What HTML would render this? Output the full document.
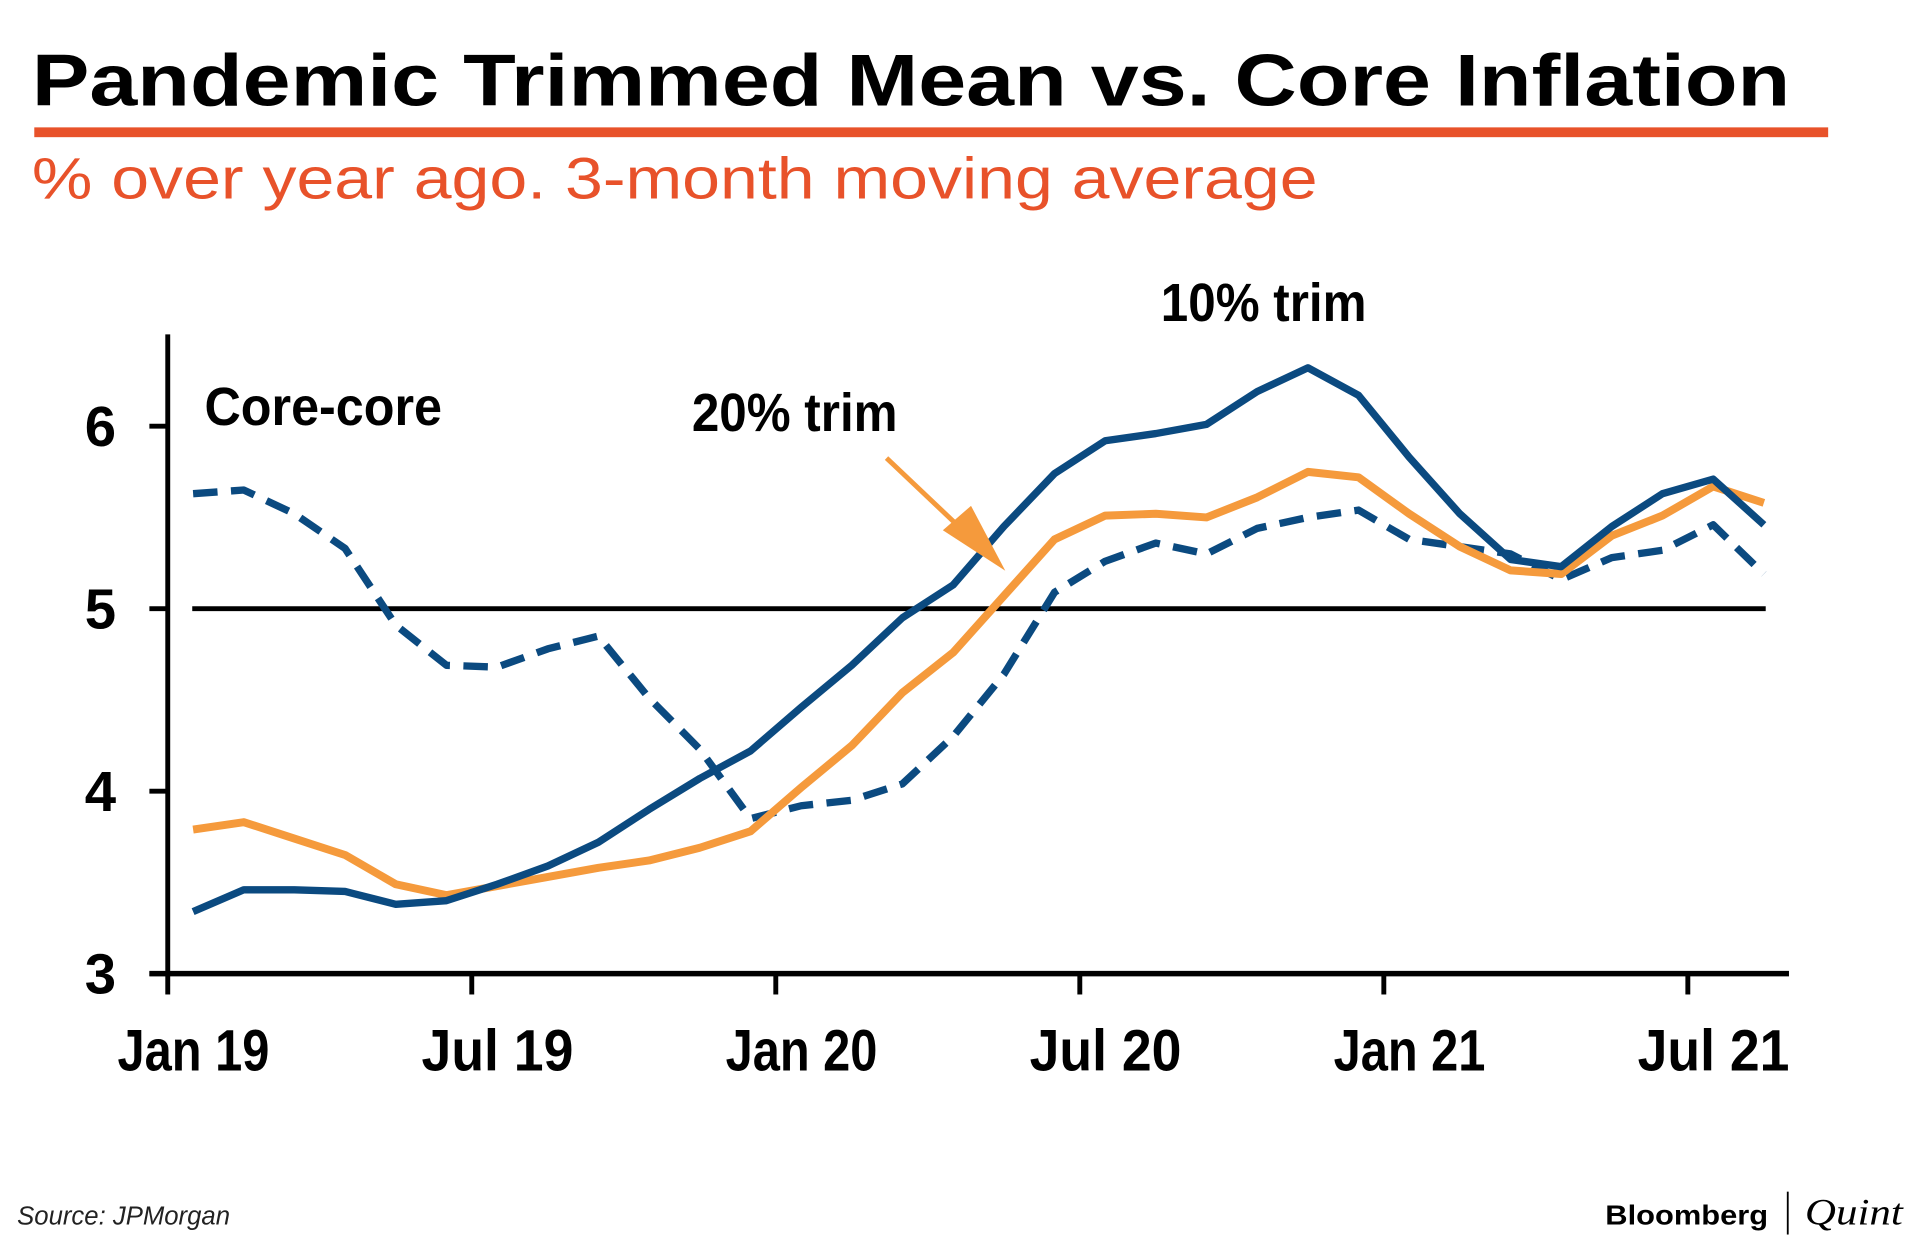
<!DOCTYPE html>
<html><head><meta charset="utf-8"><style>
html,body{margin:0;padding:0;background:#fff;}
svg{display:block;}
</style></head><body>
<svg id="chart" width="1920" height="1248" viewBox="0 0 1568 1019" preserveAspectRatio="none" xmlns="http://www.w3.org/2000/svg" font-family="'Liberation Sans', sans-serif">
<text x="26" y="86" font-size="60" font-weight="bold" fill="#000" textLength="1436" lengthAdjust="spacingAndGlyphs">Pandemic Trimmed Mean vs. Core Inflation</text>
<rect x="28" y="104" width="1465" height="8" fill="#e8522a"/>
<text x="26" y="162" font-size="48" fill="#e8522a" textLength="1050" lengthAdjust="spacingAndGlyphs">% over year ago. 3-month moving average</text>
<g id="plot"></g>
<text x="167" y="347" font-size="44" font-weight="bold" textLength="194" lengthAdjust="spacingAndGlyphs">Core-core</text>
<text x="565" y="352" font-size="44" font-weight="bold" textLength="168" lengthAdjust="spacingAndGlyphs">20% trim</text>
<text x="948" y="262" font-size="44" font-weight="bold" textLength="168" lengthAdjust="spacingAndGlyphs">10% trim</text>
<g>
<line x1="724" y1="374" x2="800" y2="446" stroke="#f59a3c" stroke-width="4"/>
<polygon points="821,466 770,433 793,413" fill="#f59a3c"/>
</g>
<text x="14" y="1000" font-size="21" font-style="italic" fill="#222">Source: JPMorgan</text>
<text x="1311" y="1000" font-size="23" font-weight="bold" fill="#000" textLength="133" lengthAdjust="spacingAndGlyphs">Bloomberg</text>
<line x1="1460" y1="973" x2="1460" y2="1008" stroke="#000" stroke-width="1.5"/>
<text x="1474" y="1000" font-size="30" font-style="italic" font-family="'Liberation Serif', serif" fill="#000" textLength="80" lengthAdjust="spacingAndGlyphs">Quint</text>
</svg>
<script>
const months = 32;
const trim10 = [3.34,3.46,3.46,3.45,3.38,3.40,3.49,3.59,3.72,3.90,4.07,4.22,4.46,4.69,4.95,5.13,5.45,5.74,5.92,5.96,6.01,6.19,6.32,6.17,5.83,5.52,5.27,5.23,5.45,5.63,5.71,5.46];
const trim20 = [3.79,3.83,3.74,3.65,3.49,3.43,3.48,3.53,3.58,3.62,3.69,3.78,4.02,4.25,4.54,4.76,5.07,5.38,5.51,5.52,5.50,5.61,5.75,5.72,5.52,5.34,5.21,5.19,5.40,5.51,5.67,5.58];
const coreCore = [5.63,5.65,5.52,5.33,4.91,4.69,4.68,4.78,4.85,4.51,4.23,3.85,3.92,3.95,4.04,4.30,4.64,5.09,5.26,5.36,5.30,5.44,5.50,5.54,5.38,5.34,5.30,5.16,5.28,5.32,5.46,5.19];
const yTicks = [3,4,5,6];
const xTickLabels = ["Jan 19","Jul 19","Jan 20","Jul 20","Jan 21","Jul 21"];
const xTickMonths = [0,6,12,18,24,30];
const refValue = 5;

const NS="http://www.w3.org/2000/svg";
const plot=document.getElementById('plot');
const X0=137, MW=41.38;
const xTick=m=>X0+m*MW;
const xPt=i=>X0+(i+0.5)*MW;
const y=v=>795-(v-3)*149;
function mk(tag,attrs,parent){const e=document.createElementNS(NS,tag);for(const k in attrs)e.setAttribute(k,attrs[k]);(parent||plot).appendChild(e);return e;}

const ref=mk('line',{x1:157,x2:1442,y1:y(refValue),y2:y(refValue),stroke:'#000','stroke-width':4});



function series(vals,color,w,dash,name){
  const d=vals.map((v,i)=>(i?'L':'M')+xPt(i).toFixed(1)+','+y(v).toFixed(1)).join(' ');
  const p=mk('path',{d:d,fill:'none',stroke:color,'stroke-width':w,'stroke-linejoin':'round'});
  if(dash)p.setAttribute('stroke-dasharray',dash);
  
  
}
series(coreCore,'#0b4a80',6,'20,11','line-core-core');
series(trim20,'#f59a3c',6.5,null,'line-20-trim');
series(trim10,'#0b4a80',6,null,'line-10-trim');

const ya=mk('line',{x1:137,x2:137,y1:273,y2:797,stroke:'#000','stroke-width':4});


const xa=mk('line',{x1:122,x2:1461,y1:795,y2:795,stroke:'#000','stroke-width':4.5});



yTicks.forEach(v=>{
  const t=mk('line',{x1:122,x2:137,y1:y(v),y2:y(v),stroke:'#000','stroke-width':4});
  
  
  const l=mk('text',{x:82,y:y(v)+16,'font-size':46,'font-weight':'bold','text-anchor':'middle'});
  l.textContent=v;
  
  
});
xTickMonths.forEach((m,i)=>{
  const t=mk('line',{x1:xTick(m),x2:xTick(m),y1:795,y2:812,stroke:'#000','stroke-width':4});
  
  
  const l=mk('text',{x:xTick(m)+21,y:874,'font-size':48,'font-weight':'bold','text-anchor':'middle',textLength:124,lengthAdjust:'spacingAndGlyphs'});
  l.textContent=xTickLabels[i];
  
  
});
</script>
</body></html>
